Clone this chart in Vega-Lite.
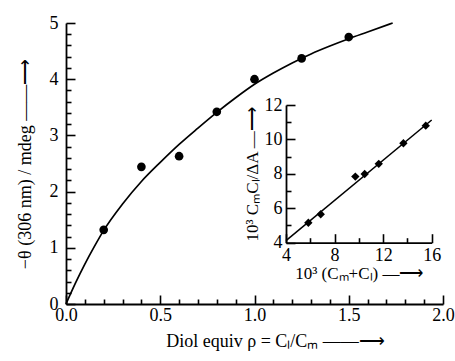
{
  "$schema": "https://vega.github.io/schema/vega-lite/v6.json",
  "width": 377,
  "height": 281,
  "autosize": "none",
  "padding": {"left": 66, "top": 23, "right": 12, "bottom": 57},
  "background": "white",
  "config": {
    "view": {"stroke": null},
    "font": "Liberation Serif",
    "axis": {
      "labelFont": "Liberation Serif",
      "titleFont": "Liberation Serif",
      "labelColor": "black",
      "titleColor": "black",
      "domainColor": "black",
      "tickColor": "black",
      "grid": false,
      "titleFontWeight": "normal",
      "domainWidth": 1.8,
      "tickWidth": 1.6,
      "labelFontSize": 18,
      "titleFontSize": 18,
      "labelFlush": false,
      "labelOverlap": false
    }
  },
  "datasets": {
    "main": [
      {"rho": 0.2, "theta": 1.32},
      {"rho": 0.4, "theta": 2.44},
      {"rho": 0.6, "theta": 2.63},
      {"rho": 0.8, "theta": 3.42},
      {"rho": 1.0, "theta": 4.0},
      {"rho": 1.25, "theta": 4.37},
      {"rho": 1.5, "theta": 4.75}
    ],
    "curve": [
      {"rho": 0, "theta": 0},
      {"rho": 0.05, "theta": 0.37},
      {"rho": 0.1, "theta": 0.71},
      {"rho": 0.15, "theta": 1.02},
      {"rho": 0.2, "theta": 1.31},
      {"rho": 0.3, "theta": 1.78},
      {"rho": 0.4, "theta": 2.18},
      {"rho": 0.5, "theta": 2.52},
      {"rho": 0.6, "theta": 2.84},
      {"rho": 0.7, "theta": 3.13},
      {"rho": 0.8, "theta": 3.41},
      {"rho": 0.9, "theta": 3.67},
      {"rho": 1.0, "theta": 3.91},
      {"rho": 1.1, "theta": 4.11},
      {"rho": 1.2, "theta": 4.29},
      {"rho": 1.3, "theta": 4.45},
      {"rho": 1.4, "theta": 4.59},
      {"rho": 1.5, "theta": 4.72},
      {"rho": 1.6, "theta": 4.84},
      {"rho": 1.733, "theta": 5.0}
    ],
    "inset": [
      {"csum": 5.84, "ratio": 5.16},
      {"csum": 6.86, "ratio": 5.65},
      {"csum": 9.71, "ratio": 7.84},
      {"csum": 10.48, "ratio": 7.99},
      {"csum": 11.64, "ratio": 8.58},
      {"csum": 13.67, "ratio": 9.78},
      {"csum": 15.51, "ratio": 10.8}
    ],
    "fit": [
      {"csum": 4, "ratio": 4.12},
      {"csum": 16, "ratio": 11.13}
    ]
  },
  "layer": [
    {
      "data": {"name": "curve"},
      "mark": {"type": "line", "color": "black", "strokeWidth": 1.7, "interpolate": "monotone"},
      "encoding": {
        "x": {"field": "rho", "type": "quantitative", "scale": {"domain": [0, 2], "nice": false, "zero": false}, "axis": null},
        "y": {"field": "theta", "type": "quantitative", "scale": {"domain": [0, 5], "nice": false}, "axis": null}
      }
    },
    {
      "data": {"name": "main"},
      "mark": {"type": "point", "opacity": 0},
      "encoding": {
        "x": {"field": "rho", "type": "quantitative", "scale": {"domain": [0, 2], "nice": false, "zero": false},
          "axis": {"orient": "bottom", "values": [0.1, 0.2, 0.3, 0.4, 0.6, 0.7, 0.8, 0.9, 1.1, 1.2, 1.3, 1.4, 1.6, 1.7, 1.8, 1.9], "labels": false, "domain": false, "tickSize": -5, "title": null}},
        "y": {"field": "theta", "type": "quantitative", "scale": {"domain": [0, 5], "nice": false},
          "axis": {"orient": "left", "values": [0.2, 0.4, 0.6, 0.8, 1.2, 1.4, 1.6, 1.8, 2.2, 2.4, 2.6, 2.8, 3.2, 3.4, 3.6, 3.8, 4.2, 4.4, 4.6, 4.8], "labels": false, "domain": false, "tickSize": -5, "title": null}}
      }
    },
    {
      "data": {"name": "main"},
      "mark": {"type": "circle", "color": "black", "size": 75, "opacity": 1},
      "encoding": {
        "x": {"field": "rho", "type": "quantitative", "scale": {"domain": [0, 2], "nice": false, "zero": false},
          "axis": {"orient": "bottom", "values": [0, 0.5, 1, 1.5, 2], "format": ".1f", "tickSize": -9, "labelPadding": 11,
            "labelFont": "Liberation Serif", "labelFontSize": 18, "titleFont": "Liberation Serif",
            "title": "Diol equiv  ρ = Cₗ/Cₘ   ——⟶", "titleX": 209, "titlePadding": 8}},
        "y": {"field": "theta", "type": "quantitative", "scale": {"domain": [0, 5], "nice": false},
          "axis": {"orient": "left", "values": [0, 1, 2, 3, 4, 5], "tickSize": -9, "labelPadding": 17,
            "labelFont": "Liberation Serif", "labelFontSize": 18, "titleFont": "Liberation Serif",
            "title": "−θ (306 nm) / mdeg ——⟶", "titlePadding": 15}}
      }
    },
    {
      "data": {"name": "fit"},
      "mark": {"type": "line", "color": "black", "strokeWidth": 1.5},
      "encoding": {
        "x": {"field": "csum", "type": "quantitative", "scale": {"domain": [4, 16], "range": [220, 365.7], "nice": false, "zero": false}, "axis": null},
        "y": {"field": "ratio", "type": "quantitative", "scale": {"domain": [4, 12], "range": [219.7, 82], "nice": false, "zero": false}, "axis": null}
      }
    },
    {
      "data": {"name": "inset"},
      "mark": {"type": "point", "opacity": 0},
      "encoding": {
        "x": {"field": "csum", "type": "quantitative", "scale": {"domain": [4, 16], "range": [220, 365.7], "nice": false, "zero": false},
          "axis": {"orient": "bottom", "offset": -61.3, "values": [6, 10, 14], "labels": false, "domain": false, "tickSize": -5, "title": null}},
        "y": {"field": "ratio", "type": "quantitative", "scale": {"domain": [4, 12], "range": [219.7, 82], "nice": false, "zero": false},
          "axis": {"orient": "left", "offset": -220, "values": [5, 7, 9, 11], "labels": false, "domain": false, "tickSize": -5, "title": null}}
      }
    },
    {
      "data": {"name": "inset"},
      "mark": {"type": "point", "shape": "diamond", "filled": true, "color": "black", "size": 70, "opacity": 1},
      "encoding": {
        "x": {"field": "csum", "type": "quantitative", "scale": {"domain": [4, 16], "range": [220, 365.7], "nice": false, "zero": false},
          "axis": {"orient": "bottom", "offset": -61.3, "values": [4, 8, 12, 16], "tickSize": -9, "labelPadding": 13,
            "labelFont": "Liberation Serif", "labelFontSize": 18, "titleFont": "Liberation Serif",
            "title": "10³ (Cₘ+Cₗ) —⟶", "titleFontSize": 17, "titlePadding": 1}},
        "y": {"field": "ratio", "type": "quantitative", "scale": {"domain": [4, 12], "range": [219.7, 82], "nice": false, "zero": false},
          "axis": {"orient": "left", "offset": -220, "values": [4, 6, 8, 10, 12], "tickSize": -9, "labelPadding": 13,
            "labelFont": "Liberation Serif", "labelFontSize": 18, "titleFont": "Liberation Serif",
            "title": "10³ CₘCₗ/ΔA —⟶", "titleFontSize": 17, "titlePadding": 3}}
      }
    }
  ],
  "resolve": {
    "scale": {"x": "independent", "y": "independent"},
    "axis": {"x": "independent", "y": "independent"}
  }
}
